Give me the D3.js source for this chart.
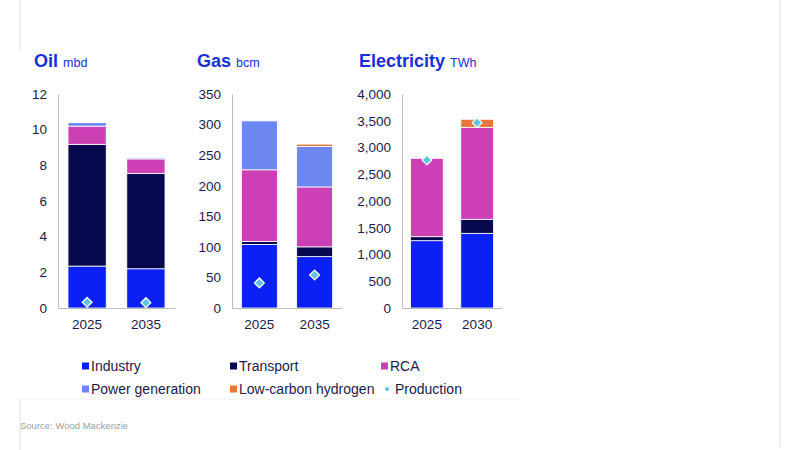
<!DOCTYPE html>
<html>
<head>
<meta charset="utf-8">
<script src="https://cdn.jsdelivr.net/npm/d3@7"></script>
<style>
  body { margin: 0; background: #fff; }
  svg { display: block; font-family: "Liberation Sans", Arial, sans-serif; }
</style>
</head>
<body>
<div id="chart"></div>
<script>
// series shared by all three panels
const seriesNames = ["Industry", "Transport", "RCA", "Power generation", "Low-carbon hydrogen"];
const seriesColors = ["#0a20f5", "#08084f", "#cc3fb5", "#6d87f2", "#e8773a"];
const productionColor = "#5cc6e0";

// Oil, mbd
const oilYears = ["2025", "2035"];
const oilIndustry = [2.35, 2.2];
const oilTransport = [6.83, 5.35];
const oilRCA = [1.02, 0.81];
const oilPower = [0.19, 0.06];
const oilHydrogen = [0, 0];
const oilProduction = [0.32, 0.3];
const oilTicks = [0, 2, 4, 6, 8, 10, 12];

// Gas, bcm
const gasYears = ["2025", "2035"];
const gasIndustry = [104, 84];
const gasTransport = [5, 16];
const gasRCA = [117, 98];
const gasPower = [80, 66];
const gasHydrogen = [0, 4];
const gasProduction = [41, 54];
const gasTicks = [0, 50, 100, 150, 200, 250, 300, 350];

// Electricity, TWh
const elecYears = ["2025", "2030"];
const elecIndustry = [1258, 1396];
const elecTransport = [75, 262];
const elecRCA = [1465, 1719];
const elecPower = [0, 0];
const elecHydrogen = [0, 150];
const elecProduction = [2766, 3464];
const elecTicks = [0, 500, 1000, 1500, 2000, 2500, 3000, 3500, 4000];

const width = 800, height = 450;
const svg = d3.select("#chart").append("svg")
    .attr("width", width)
    .attr("height", height);

// faint frame lines from the page layout
const frame = [
    [20, 0, 20, 50], [780, 0, 780, 447], [20, 399, 20, 450]
];
frame.forEach(f => {
    svg.append("line")
        .attr("x1", f[0]).attr("y1", f[1]).attr("x2", f[2]).attr("y2", f[3])
        .style("stroke", "#dedede").style("stroke-width", 1);
});
svg.append("line")
    .attr("x1", 20).attr("y1", 399).attr("x2", 520).attr("y2", 399)
    .style("stroke", "#f2f2f2").style("stroke-width", 1);

const panels = [
    { title: "Oil", unit: "mbd", titleX: 34, x0: 58, x1: 175, years: oilYears,
      values: [oilIndustry, oilTransport, oilRCA, oilPower, oilHydrogen],
      production: oilProduction, ticks: oilTicks, max: 12, fmt: d3.format("d") },
    { title: "Gas", unit: "bcm", titleX: 197, x0: 232, x1: 342, years: gasYears,
      values: [gasIndustry, gasTransport, gasRCA, gasPower, gasHydrogen],
      production: gasProduction, ticks: gasTicks, max: 350, fmt: d3.format("d") },
    { title: "Electricity", unit: "TWh", titleX: 359, x0: 402, x1: 502, years: elecYears,
      values: [elecIndustry, elecTransport, elecRCA, elecPower, elecHydrogen],
      production: elecProduction, ticks: elecTicks, max: 4000, fmt: d3.format(",") }
];

const yTop = 94, yBase = 308;
const textColor = "#1b1b4b";

panels.forEach(p => {
    let g = svg.append("g");

    // title
    let t = g.append("text")
        .attr("x", p.titleX)
        .attr("y", 67)
        .style("fill", "#1630dc");
    t.append("tspan")
        .style("font-size", "18px")
        .style("font-weight", "bold")
        .text(p.title);
    t.append("tspan")
        .attr("dx", 5)
        .style("font-size", "12.5px")
        .text(p.unit);

    let x = d3.scaleBand()
        .domain(p.years)
        .range([p.x0, p.x1])
        .paddingInner(0.35)
        .paddingOuter(0.17);

    let y = d3.scaleLinear()
        .domain([0, p.max])
        .range([yBase, yTop]);

    // rows for the stack
    let rows = p.years.map((yr, i) => {
        let r = { year: yr };
        seriesNames.forEach((s, j) => { r[s] = p.values[j][i]; });
        return r;
    });
    let stacked = d3.stack().keys(seriesNames)(rows);

    stacked.forEach((layer, j) => {
        g.append("g")
            .selectAll("rect")
            .data(layer.filter(d => d[1] - d[0] > 0))
            .join("rect")
            .attr("x", d => x(d.data.year))
            .attr("width", x.bandwidth())
            .attr("y", d => y(d[1]))
            .attr("height", d => y(d[0]) - y(d[1]))
            .style("fill", seriesColors[j])
            .style("stroke", "#fff")
            .style("stroke-width", 0.8);
    });

    // y axis
    let yAxis = g.append("g")
        .attr("transform", `translate(${p.x0},0)`)
        .call(d3.axisLeft(y).tickValues(p.ticks).tickFormat(p.fmt).tickSize(0).tickPadding(11));
    yAxis.select(".domain").style("stroke", "#bdbdbd");
    yAxis.selectAll("text")
        .style("font-size", "13.5px")
        .style("fill", textColor)
        .style("font-family", "'Liberation Sans', Arial, sans-serif");

    // x axis
    let xAxis = g.append("g")
        .attr("transform", `translate(0,${yBase})`)
        .call(d3.axisBottom(x).tickSize(0).tickPadding(11).tickSizeOuter(0));
    xAxis.select(".domain").style("stroke", "#bdbdbd");
    xAxis.selectAll("text")
        .style("font-size", "13.5px")
        .style("fill", textColor)
        .style("font-family", "'Liberation Sans', Arial, sans-serif");

    // production markers
    g.append("g")
        .selectAll("path")
        .data(p.production.map((v, i) => ({ year: p.years[i], value: v })))
        .join("path")
        .attr("d", d3.symbol().type(d3.symbolSquare).size(48))
        .attr("transform", d => `translate(${x(d.year) + x.bandwidth() / 2},${y(d.value)}) rotate(45)`)
        .style("fill", productionColor)
        .style("stroke", "#fff")
        .style("stroke-width", 1.3);
});

// legend
const legendItems = seriesNames.concat(["Production"]);
const legendColors = seriesColors.concat([productionColor]);
const legendCols = [82, 230, 381];
const legendRows = [366, 389];

legendItems.forEach((name, i) => {
    let cx = legendCols[i % 3];
    let cy = legendRows[Math.floor(i / 3)];
    if (name === "Production") {
        svg.append("path")
            .attr("d", d3.symbol().type(d3.symbolSquare).size(12))
            .attr("transform", `translate(${cx + 6},${cy}) rotate(45)`)
            .style("fill", legendColors[i]);
    } else {
        svg.append("rect")
            .attr("x", cx)
            .attr("y", cy - 3.5)
            .attr("width", 7)
            .attr("height", 7)
            .style("fill", legendColors[i]);
    }
    svg.append("text")
        .attr("x", name === "Production" ? cx + 14 : cx + 9)
        .attr("y", cy)
        .attr("dy", "0.35em")
        .style("font-size", "14px")
        .style("fill", textColor)
        .text(name);
});

svg.append("text")
    .attr("x", 20)
    .attr("y", 429)
    .style("font-size", "9.5px")
    .style("fill", "#a0a0a0")
    .text("Source: Wood Mackenzie");
</script>
</body>
</html>
